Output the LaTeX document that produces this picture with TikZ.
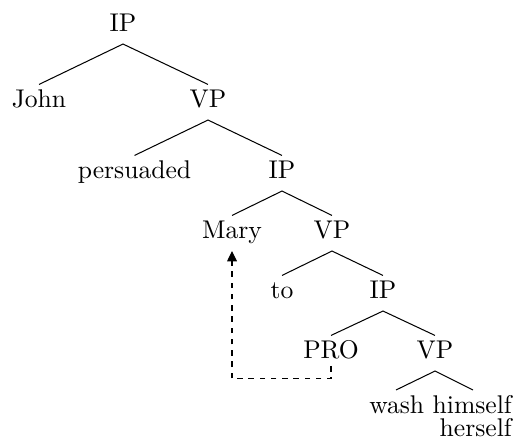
\documentclass[tikz,border=0pt]{standalone}
\usetikzlibrary{arrows.meta,calc}
\tikzset{
  cat/.style={anchor=base, inner sep=2.5pt, text height=6.5pt, text depth=2pt},
  branch/.style={line width=0.4pt},
  trace/.style={dash pattern=on 2.2pt off 2.2pt, -{Triangle[length=4pt,width=3.8pt]}},
}
\begin{document}
\begin{tikzpicture}[x=0.3906pt, y=-0.3906pt]
  \useasboundingbox (0,0) rectangle (518,447);
  % categories and words
  \node[cat] (ip1) at (123,32) {IP};
  \node[cat] (john) at (39,108) {John};
  \node[cat] (vp1) at (208,108) {VP};
  \node[cat] (pers) at (134.5,179) {persuaded};
  \node[cat] (ip2) at (282,179) {IP};
  \node[cat] (mary) at (232,239) {Mary};
  \node[cat] (vp2) at (332,239) {VP};
  \node[cat] (to) at (282,299) {to};
  \node[cat] (ip3) at (383,299) {IP};
  \node[cat] (pro) at (331,359) {PRO};
  \node[cat] (vp3) at (435,359) {VP};
  \node[align=right, anchor=north, inner sep=2pt] (wh) at (440.5,390) {wash himself\\[-3pt]herself};
  \coordinate (whl) at (396,390);
  \coordinate (whr) at (473,390);
  % branches
  \draw[branch] (john.north) -- (ip1.south) -- (vp1.north);
  \draw[branch] (pers.north) -- (vp1.south) -- (ip2.north);
  \draw[branch] (mary.north) -- (ip2.south) -- (vp2.north);
  \draw[branch] (to.north) -- (vp2.south) -- (ip3.north);
  \draw[branch] (pro.north) -- (ip3.south) -- (vp3.north);
  \draw[branch] (whl) -- (vp3.south) -- (whr);
  % control
  \draw[trace] ([yshift=2pt]pro.south) -- ++(0,13) -| (mary.south);
\end{tikzpicture}
\end{document}
